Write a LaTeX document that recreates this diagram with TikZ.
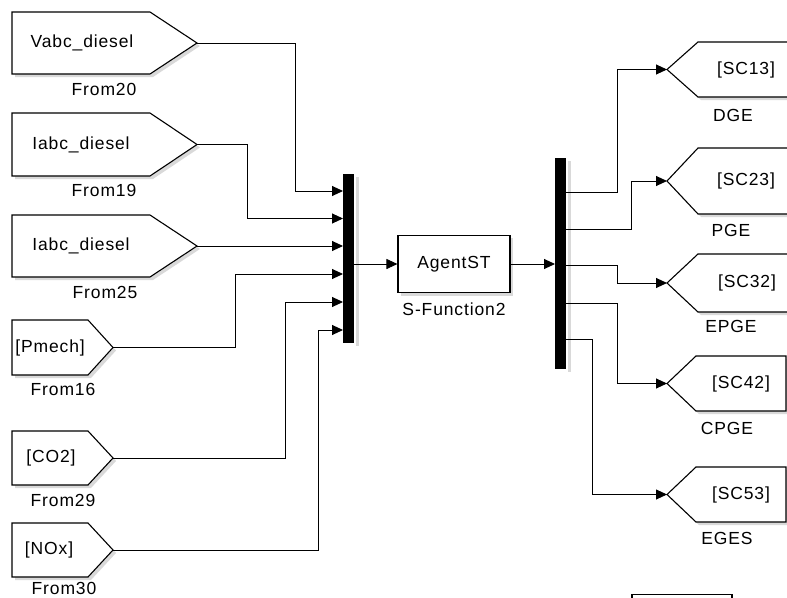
\documentclass[tikz,border=0pt]{standalone}
\usepackage{fontspec}
\setmainfont{Liberation Sans}[LetterSpace=5]
\usetikzlibrary{arrows.meta,calc}
\newcommand{\fromshape}[5]{%
  \fill[shd,shift={(3,3)}] (#1,#4) -- (#2,#4) -- (#3,{(#4+#5)/2}) -- (#2,#5) -- (#1,#5) -- cycle;
  \draw[blk] (#1,#4) -- (#2,#4) -- (#3,{(#4+#5)/2}) -- (#2,#5) -- (#1,#5) -- cycle;}
\newcommand{\gotoshape}[5]{%
  \fill[shd,shift={(3,3)}] (#1,{(#4+#5)/2}) -- (#2,#4) -- (#3,#4) -- (#3,#5) -- (#2,#5) -- cycle;
  \draw[blk] (#1,{(#4+#5)/2}) -- (#2,#4) -- (#3,#4) -- (#3,#5) -- (#2,#5) -- cycle;}
\begin{document}
\begin{tikzpicture}[x=1pt,y=-1pt,
  blk/.style={draw=black, line width=1.1pt, fill=white, line join=miter},
  shd/.style={fill=black!15, draw=none},
  wire/.style={draw=black, line width=0.9pt},
  arr/.style={wire, -{Triangle[length=11pt,width=10pt]}},
  txt/.style={font=\fontsize{17.5}{19}\selectfont, inner sep=0pt},
  bar/.style={fill=black}]
\useasboundingbox (0,0) rectangle (787,597);

% ---- From blocks (left)
\fromshape{12}{150}{197}{12}{74}
\fromshape{12}{150}{197}{113}{176}
\fromshape{12}{150}{197}{215}{277}
\fromshape{12}{88}{113}{320}{375}
\fromshape{12}{88}{113}{431}{485}
\fromshape{12}{88}{113}{523}{577}
\coordinate (f1) at (197,43);
\coordinate (f2) at (197,144.5);
\coordinate (f3) at (197,246);
\coordinate (f4) at (113,347.5);
\coordinate (f5) at (113,458);
\coordinate (f6) at (113,550);

\node[txt] (t1) at (82,43) {Vabc\_diesel};
\node[txt] (t2) at (81,144.5) {Iabc\_diesel};
\node[txt] (t3) at (81,246) {Iabc\_diesel};
\node[txt] (t4) at (50,347.5) {[Pmech]};
\node[txt] (t5) at (51,458) {[CO2]};
\node[txt] (t6) at (49,550) {[NOx]};

\node[txt] (l1) at (104,89) {From20};
\node[txt] (l2) at (104,190) {From19};
\node[txt] (l3) at (105,292) {From25};
\node[txt] (l4) at (63,389) {From16};
\node[txt] (l5) at (63,500) {From29};
\node[txt] (l6) at (64,588) {From30};

% ---- Mux
\fill[black!15] (356,177) rectangle (359,346);
\fill[bar] (343,174) rectangle (354,343);
\coordinate (m1) at (343,191);
\coordinate (m2) at (343,218.5);
\coordinate (m3) at (343,246);
\coordinate (m4) at (343,274);
\coordinate (m5) at (343,302);
\coordinate (m6) at (343,330);
\coordinate (mo) at (354,264);

\draw[arr] (f1) -| ($(m1)+(-48,0)$) -- (m1);
\draw[arr] (f2) -| ($(m2)+(-96,0)$) -- (m2);
\draw[arr] (f3) -- (m3);
\draw[arr] (f4) -| ($(m4)+(-108,0)$) -- (m4);
\draw[arr] (f5) -| ($(m5)+(-58,0)$) -- (m5);
\draw[arr] (f6) -| ($(m6)+(-25,0)$) -- (m6);

% ---- S-Function
\fill[shd] (401,238) rectangle (513,296);
\node[blk, txt, minimum width=112pt, minimum height=57pt] (ag) at (454,264) {AgentST};
\node[txt] (agl) at (454,309) {S-Function2};
\draw[arr] (mo) -- (ag.west);

% ---- Demux
\fill[black!15] (568,161) rectangle (571,372);
\fill[bar] (555,158) rectangle (566,369);
\coordinate (di) at (555,264);
\draw[arr] (ag.east) -- (di);
\coordinate (d1) at (566,192);
\coordinate (d2) at (566,229);
\coordinate (d3) at (566,265);
\coordinate (d4) at (566,303);
\coordinate (d5) at (566,339);

% ---- Goto blocks (right)
\gotoshape{667}{698}{795}{42}{97}
\gotoshape{667}{698}{795}{148}{214}
\gotoshape{667}{698}{795}{254}{312}
\gotoshape{667}{696}{786}{356}{411}
\gotoshape{667}{696}{786}{467}{522}
\coordinate (g1) at (667,69.5);
\coordinate (g2) at (667,181);
\coordinate (g3) at (667,283);
\coordinate (g4) at (667,383.5);
\coordinate (g5) at (667,494.5);

\node[txt] (s1) at (746,69.5) {[SC13]};
\node[txt] (s2) at (746,181) {[SC23]};
\node[txt] (s3) at (747,283) {[SC32]};
\node[txt] (s4) at (741,383.5) {[SC42]};
\node[txt] (s5) at (741,494.5) {[SC53]};

\node[txt] (n1) at (733,115) {DGE};
\node[txt] (n2) at (731,230) {PGE};
\node[txt] (n3) at (731,326) {EPGE};
\node[txt] (n4) at (727,428) {CPGE};
\node[txt] (n5) at (727,538) {EGES};

\draw[arr] (d1) -| ($(g1)+(-50,0)$) -- (g1);
\draw[arr] (d2) -| ($(g2)+(-36,0)$) -- (g2);
\draw[arr] (d3) -| ($(g3)+(-50,0)$) -- (g3);
\draw[arr] (d4) -| ($(g4)+(-50,0)$) -- (g4);
\draw[arr] (d5) -| ($(g5)+(-75,0)$) -- (g5);

% ---- partial block at bottom edge
\draw[blk, fill=none] (632,600) -- (632,594.5) -- (732,594.5) -- (732,600);
\end{tikzpicture}
\end{document}
